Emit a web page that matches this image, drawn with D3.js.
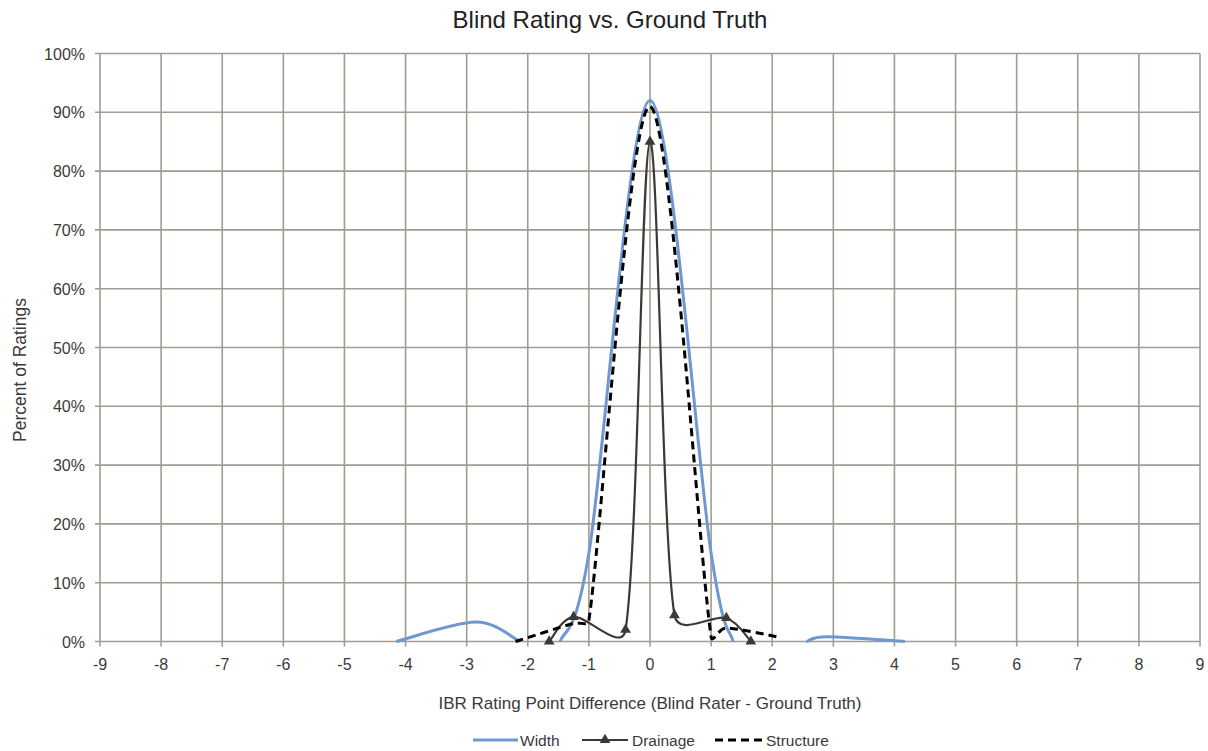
<!DOCTYPE html>
<html>
<head>
<meta charset="utf-8">
<script src="https://cdn.jsdelivr.net/npm/d3@7"></script>
<style>
  body { margin: 0; background: #fff; }
  svg text { font-family: "Liberation Sans", Arial, sans-serif; fill: #3a3a3a; }
</style>
</head>
<body>
<div class="graph-container"></div>
<script>
// chart values (x = point difference, y = percent)
var xTicks = [-9,-8,-7,-6,-5,-4,-3,-2,-1,0,1,2,3,4,5,6,7,8,9]
var yTicks = [0,10,20,30,40,50,60,70,80,90,100]

// Width has gaps (null) between its three pieces
var widthX = [-4.15, -2.85, -2.13, null, -1.47, -1.0, 0, 1.0, 1.36, null, 2.56, 2.9, 4.17]
var widthY = [0, 3.3, 0, null, 0, 15, 92, 15, 0, null, 0, 0.8, 0]

var drainageX = [-1.65, -1.25, -0.4, 0, 0.4, 1.25, 1.65]
var drainageY = [0, 4.2, 2.0, 85, 4.5, 4.0, 0]

var structureX = [-2.2, -1.25, -1.0, 0, 1.0, 1.25, 2.13]
var structureY = [0, 3.1, 3.6, 91, 0.8, 2.3, 0.7]

var seriesNames = ['Width', 'Drainage', 'Structure']

// SVG setup
var W = 1208, H = 751
var margin = {top: 53.5, right: 8, bottom: 109.5, left: 100},
    width = W - margin.left - margin.right,
    height = H - margin.top - margin.bottom

var svg = d3.select(".graph-container").append("svg")
    .attr("width", W)
    .attr("height", H)

var g = svg.append("g")
    .attr("transform", "translate(" + margin.left + "," + margin.top + ")")

var x = d3.scaleLinear().domain([-9, 9]).range([0, width])
var y = d3.scaleLinear().domain([0, 100]).range([height, 0])

var gridColor = "#a29b94"

// grid
g.selectAll(".hgrid").data(yTicks).enter().append("line")
  .attr("x1", -5).attr("x2", width)
  .attr("y1", d => y(d)).attr("y2", d => y(d))
  .attr("stroke", gridColor).attr("stroke-width", 1.6)

g.selectAll(".vgrid").data(xTicks).enter().append("line")
  .attr("y1", 0).attr("y2", height + 5)
  .attr("x1", d => x(d)).attr("x2", d => x(d))
  .attr("stroke", gridColor).attr("stroke-width", 1.6)

// tick labels
g.selectAll(".ylab").data(yTicks).enter().append("text")
  .attr("x", -15).attr("y", d => y(d) + 6)
  .attr("text-anchor", "end")
  .style("font-size", "16px")
  .text(d => d + "%")

g.selectAll(".xlab").data(xTicks).enter().append("text")
  .attr("x", d => x(d)).attr("y", height + 28)
  .attr("text-anchor", "middle")
  .style("font-size", "16px")
  .text(d => d)

// axis titles
svg.append("text")
  .attr("x", 610).attr("y", 28)
  .attr("text-anchor", "middle")
  .style("font-size", "24px").style("fill", "#222")
  .text("Blind Rating vs. Ground Truth")

svg.append("text")
  .attr("x", 650).attr("y", 709)
  .attr("text-anchor", "middle")
  .style("font-size", "17px")
  .text("IBR Rating Point Difference (Blind Rater - Ground Truth)")

svg.append("text")
  .attr("transform", "translate(26,442) rotate(-90)")
  .attr("text-anchor", "start")
  .style("font-size", "17.5px")
  .text("Percent of Ratings")

// smoothed lines, spreadsheet style: catmull-rom handles, kept short on short segments
function pts(xs, ys) {
  return xs.map((v, i) => ({x: v, y: ys[i]}))
}

function clampArm(a, maxLen) {
  var l = Math.hypot(a[0], a[1])
  if (l > maxLen && l > 0) return [a[0] * maxLen / l, a[1] * maxLen / l]
  return a
}

function smoothPath(data, k) {
  var p = d3.path()
  var runs = [[]]
  data.forEach(d => {
    if (d.x === null) runs.push([])
    else runs[runs.length - 1].push([x(d.x), y(d.y)])
  })
  runs.filter(r => r.length > 1).forEach(P => {
    var n = P.length
    p.moveTo(P[0][0], P[0][1])
    for (var i = 0; i < n - 1; i++) {
      var p0 = P[Math.max(i - 1, 0)], p1 = P[i], p2 = P[i + 1], p3 = P[Math.min(i + 2, n - 1)]
      var len = Math.hypot(p2[0] - p1[0], p2[1] - p1[1])
      var a1 = clampArm([(p2[0] - p0[0]) / 6, (p2[1] - p0[1]) / 6], k * len)
      var a2 = clampArm([(p3[0] - p1[0]) / 6, (p3[1] - p1[1]) / 6], k * len)
      p.bezierCurveTo(p1[0] + a1[0], p1[1] + a1[1], p2[0] - a2[0], p2[1] - a2[1], p2[0], p2[1])
    }
  })
  return p.toString()
}

g.append("path")
  .attr("fill", "none")
  .attr("stroke", "#7098d0")
  .attr("stroke-width", 3)
  .attr("d", smoothPath(pts(widthX, widthY), 1))

g.append("path")
  .attr("fill", "none")
  .attr("stroke", "#3f3935")
  .attr("stroke-width", 2.2)
  .attr("d", smoothPath(pts(drainageX, drainageY), 0.45))

var tri = d3.symbol().type(d3.symbolTriangle).size(50)
g.selectAll(".mk").data(pts(drainageX, drainageY)).enter().append("path")
  .attr("d", tri)
  .attr("transform", d => "translate(" + x(d.x) + "," + y(d.y) + ")")
  .attr("fill", "#3f3935")

g.append("path")
  .attr("fill", "none")
  .attr("stroke", "#000")
  .attr("stroke-width", 3)
  .attr("stroke-dasharray", "8,5")
  .attr("d", smoothPath(pts(structureX, structureY), 0.45))

// legend
var legend = svg.append("g").attr("transform", "translate(0,740)")
var legX = [473, 582, 715]
legend.append("line").attr("x1", legX[0]).attr("x2", legX[0] + 45)
  .attr("stroke", "#7098d0").attr("stroke-width", 3)
legend.append("line").attr("x1", legX[1]).attr("x2", legX[1] + 46)
  .attr("stroke", "#3f3935").attr("stroke-width", 2.2)
legend.append("path").attr("d", tri)
  .attr("transform", "translate(" + (legX[1] + 23) + ",0)")
  .attr("fill", "#3f3935")
legend.append("line").attr("x1", legX[2]).attr("x2", legX[2] + 48)
  .attr("stroke", "#000").attr("stroke-width", 3)
  .attr("stroke-dasharray", "8,5")
legend.selectAll(".lt").data(seriesNames).enter().append("text")
  .attr("x", (d, i) => legX[i] + [47, 50, 51][i])
  .attr("y", 6)
  .style("font-size", "15.5px")
  .text(d => d)
</script>
</body>
</html>
